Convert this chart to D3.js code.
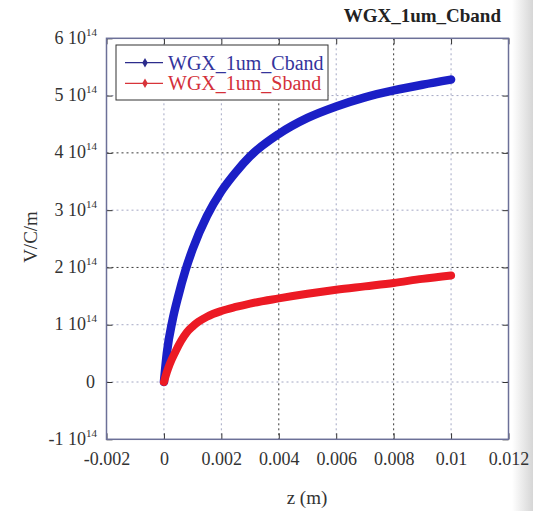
<!DOCTYPE html>
<html>
<head>
<meta charset="utf-8">
<script src="https://cdn.jsdelivr.net/npm/d3@7"></script>
<style>
  body { margin: 0; background: #fff; }
  svg text { font-family: "Liberation Serif", Tinos, "DejaVu Serif", serif !important; }
</style>
</head>
<body>
<svg id="chart"></svg>
<script>
// values (z in m, field in V/C/m)
const cbandZ = [0, 0.0001, 0.0003, 0.0005, 0.00075, 0.001, 0.0015, 0.002, 0.0025, 0.003, 0.004, 0.005, 0.006, 0.007, 0.008, 0.009, 0.01];
const cbandV = [0, 0.5e14, 1.08e14, 1.5e14, 1.95e14, 2.32e14, 2.9e14, 3.33e14, 3.66e14, 3.94e14, 4.33e14, 4.61e14, 4.81e14, 4.97e14, 5.09e14, 5.19e14, 5.28e14];

const sbandZ = [0, 0.0001, 0.0002, 0.0004, 0.0006, 0.0008, 0.001, 0.0012, 0.0015, 0.002, 0.0025, 0.003, 0.004, 0.005, 0.006, 0.007, 0.008, 0.009, 0.01];
const sbandV = [0, 0.17e14, 0.31e14, 0.53e14, 0.72e14, 0.87e14, 0.97e14, 1.05e14, 1.14e14, 1.24e14, 1.31e14, 1.37e14, 1.46e14, 1.54e14, 1.61e14, 1.67e14, 1.73e14, 1.8e14, 1.86e14];

const seriesNames = ['WGX_1um_Cband', 'WGX_1um_Sband'];

const xTicks = [-0.002, 0, 0.002, 0.004, 0.006, 0.008, 0.01, 0.012];
const xTickLabels = ['-0.002', '0', '0.002', '0.004', '0.006', '0.008', '0.01', '0.012'];
const yTicks = [-1e14, 0, 1e14, 2e14, 3e14, 4e14, 5e14, 6e14];
const yTickMantissa = ['-1', '0', '1', '2', '3', '4', '5', '6'];

const width = 533;
const height = 511;
const plotLeft = 106.5, plotRight = 508.5, plotTop = 38.3, plotBottom = 439.3;

const svg = d3.select('#chart')
  .attr('width', width)
  .attr('height', height);

// greyish edge of the photographed page
const defs = svg.append('defs');
const grad = defs.append('linearGradient').attr('id', 'edge').attr('x1', 0).attr('x2', 1);
grad.append('stop').attr('offset', 0).attr('stop-color', '#fff');
grad.append('stop').attr('offset', 1).attr('stop-color', '#d6d6d6');
svg.append('rect').attr('x', 512).attr('y', 0).attr('width', 21).attr('height', height).attr('fill', 'url(#edge)');

const x = d3.scaleLinear().domain([-0.002, 0.012]).range([plotLeft, plotRight]);
const y = d3.scaleLinear().domain([-1e14, 6e14]).range([plotBottom, plotTop]);

// grid
const grid = svg.append('g');
grid.selectAll('.vgrid')
  .data(xTicks.slice(1, -1))
  .enter()
  .append('line')
  .attr('x1', (d) => x(d)).attr('x2', (d) => x(d))
  .attr('y1', plotTop).attr('y2', plotBottom)
  .attr('stroke', (d) => (d === 0.004 || d === 0.008 ? '#3a3a3a' : '#a4a8c4'))
  .attr('stroke-width', 1)
  .attr('stroke-dasharray', '2,3');
grid.selectAll('.hgrid')
  .data(yTicks.slice(1, -1))
  .enter()
  .append('line')
  .attr('x1', plotLeft).attr('x2', plotRight)
  .attr('y1', (d) => y(d)).attr('y2', (d) => y(d))
  .attr('stroke', (d) => (d === 2e14 || d === 4e14 ? '#3a3a3a' : '#a4a8c4'))
  .attr('stroke-width', 1)
  .attr('stroke-dasharray', '2,3');

// axes
const xAxis = d3.axisBottom(x).tickValues(xTicks).tickFormat((d, i) => xTickLabels[i]).tickSize(-6).tickPadding(13);
const gx = svg.append('g')
  .attr('transform', `translate(0, ${plotBottom})`)
  .call(xAxis);
gx.select('.domain').remove();
gx.selectAll('line').attr('stroke', '#333');
gx.selectAll('text').attr('font-size', 18).attr('fill', '#333');

const xTop = svg.append('g')
  .attr('transform', `translate(0, ${plotTop})`)
  .call(d3.axisTop(x).tickValues(xTicks).tickFormat('').tickSize(-6));
xTop.select('.domain').remove();
xTop.selectAll('line').attr('stroke', '#333');

const yAxis = d3.axisLeft(y).tickValues(yTicks).tickSize(-6).tickPadding(9.5);
const gy = svg.append('g')
  .attr('transform', `translate(${plotLeft}, 0)`)
  .call(yAxis);
gy.select('.domain').remove();
gy.selectAll('line').attr('stroke', '#333');
gy.selectAll('text')
  .attr('dy', '0.28em')
  .attr('font-size', 18)
  .attr('fill', '#333')
  .each(function (d, i) {
    const t = d3.select(this).text('');
    if (d === 0) {
      t.attr('x', -11.5).text('0');
      return;
    }
    t.append('tspan').text(`${yTickMantissa[i]} 10`);
    t.append('tspan').attr('dy', -8).attr('font-size', 11).text('14');
  });

const yRight = svg.append('g')
  .attr('transform', `translate(${plotRight}, 0)`)
  .call(d3.axisRight(y).tickValues(yTicks).tickFormat('').tickSize(-6));
yRight.select('.domain').remove();
yRight.selectAll('line').attr('stroke', '#333');

// frame
svg.append('rect')
  .attr('x', plotLeft).attr('y', plotTop)
  .attr('width', plotRight - plotLeft).attr('height', plotBottom - plotTop)
  .attr('fill', 'none')
  .attr('stroke', '#6c7098')
  .attr('stroke-width', 1.5);

// curves
const line = d3.line()
  .x((d) => x(d[0]))
  .y((d) => y(d[1]))
  .curve(d3.curveMonotoneX);

const cband = cbandZ.map((z, i) => [z, cbandV[i]]);
const sband = sbandZ.map((z, i) => [z, sbandV[i]]);

svg.append('path')
  .datum(cband)
  .attr('d', line)
  .attr('fill', 'none')
  .attr('stroke', '#1b1fc6')
  .attr('stroke-width', 8.5)
  .attr('stroke-linecap', 'round')
  .attr('stroke-linejoin', 'round');

svg.append('path')
  .datum(sband)
  .attr('d', line)
  .attr('fill', 'none')
  .attr('stroke', '#ec1a24')
  .attr('stroke-width', 8)
  .attr('stroke-linecap', 'round')
  .attr('stroke-linejoin', 'round');

// legend
const legend = svg.append('g');
legend.append('rect')
  .attr('x', 116).attr('y', 45)
  .attr('width', 212).attr('height', 55)
  .attr('fill', '#fff')
  .attr('stroke', '#333')
  .attr('stroke-width', 1);

const legendColors = ['#2c2c8c', '#d8343a'];
const legendText = ['#34349c', '#d4303a'];
const legendY = [62.7, 83.3];
seriesNames.forEach((name, i) => {
  const ly = legendY[i];
  legend.append('line')
    .attr('x1', 125).attr('x2', 163)
    .attr('y1', ly).attr('y2', ly)
    .attr('stroke', legendColors[i])
    .attr('stroke-width', 1.2);
  legend.append('path')
    .attr('d', d3.symbol(d3.symbolDiamond, 26))
    .attr('transform', `translate(145, ${ly})`)
    .attr('fill', legendColors[i]);
  legend.append('text')
    .attr('x', 168).attr('y', ly + 6.8)
    .attr('font-size', 20)
    .attr('fill', legendText[i])
    .text(name);
});

// titles
svg.append('text')
  .attr('x', 501).attr('y', 21.7)
  .attr('text-anchor', 'end')
  .attr('font-size', 19)
  .attr('font-weight', 'bold')
  .attr('fill', '#222')
  .text('WGX_1um_Cband');

svg.append('text')
  .attr('x', 307).attr('y', 504)
  .attr('text-anchor', 'middle')
  .attr('font-size', 19)
  .attr('fill', '#333')
  .text('z (m)');

svg.append('text')
  .attr('transform', 'translate(37, 237) rotate(-90)')
  .attr('text-anchor', 'middle')
  .attr('font-size', 19)
  .attr('fill', '#333')
  .text('V/C/m');
</script>
</body>
</html>
